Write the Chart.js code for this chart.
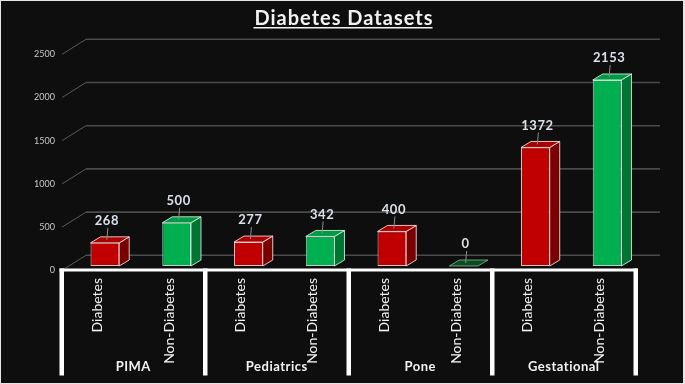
<!DOCTYPE html>
<html>
<head>
<meta charset="utf-8">
<script src="https://cdn.jsdelivr.net/npm/chart.js@4.4.1/dist/chart.umd.min.js"></script>
<style>
  html, body { margin: 0; padding: 0; background: #e6e6e6; }
  #wrap { position: absolute; left: 0; top: 0; width: 685px; height: 384px; }
</style>
</head>
<body>
<div id="wrap"><canvas id="myChart" width="685" height="384"></canvas></div>
<script>
const titleText = "Diabetes Datasets";
const categories = ["Diabetes", "Non-Diabetes", "Diabetes", "Non-Diabetes", "Diabetes", "Non-Diabetes", "Diabetes", "Non-Diabetes"];
const groups = ["PIMA", "Pediatrics", "Pone", "Gestational"];
const values = [268, 500, 277, 342, 400, 0, 1372, 2153];
const yTicks = [0, 500, 1000, 1500, 2000, 2500];

const FONT = "Lato, 'Open Sans', sans-serif";
const DX = 10, DY = 6;          // bar depth
const WALL_DX = 24, WALL_DY = 15; // side wall depth
const FRONT_SHIFT = -7.5;       // front plane offset of category axis

const isRed = (i) => i % 2 === 0;
const frontCol = (i) => isRed(i) ? "#c00000" : "#00b050";
const topCol = (i) => isRed(i) ? "#a80000" : "#009a46";
const sideCol = (i) => isRed(i) ? "#780000" : "#007533";
const edgeCol = (i) => isRed(i) ? "rgba(255,225,225,0.85)" : "rgba(215,245,225,0.85)";

const poly = (ctx, pts, fill, stroke) => {
  ctx.beginPath();
  ctx.moveTo(pts[0][0], pts[0][1]);
  pts.slice(1).forEach((p) => ctx.lineTo(p[0], p[1]));
  ctx.closePath();
  ctx.fillStyle = fill;
  ctx.fill();
  if (stroke) {
    ctx.strokeStyle = stroke;
    ctx.lineWidth = 1;
    ctx.stroke();
  }
};

const backdrop = {
  id: "backdrop",
  beforeDraw(chart) {
    const ctx = chart.ctx;
    const y = chart.scales.y;
    ctx.save();
    ctx.fillStyle = "#0e0e0e";
    ctx.fillRect(1, 1, 682, 382);

    // title, underlined
    ctx.fillStyle = "#f2f2f2";
    ctx.font = "bold 20px " + FONT;
    ctx.letterSpacing = "1px";
    ctx.textAlign = "center";
    ctx.textBaseline = "alphabetic";
    ctx.fillText(titleText, 344, 25);
    const tw = ctx.measureText(titleText).width;
    ctx.fillRect(343 - tw / 2, 27, tw, 1.5);
    ctx.letterSpacing = "0px";

    // back wall gridlines + side wall diagonals + tick labels
    yTicks.forEach((v) => {
      const py = y.getPixelForValue(v);
      const fx = 62, fy = py + 4.3;
      const bx = fx + WALL_DX, by = fy - WALL_DY;
      ctx.strokeStyle = "#4a4a4a";
      ctx.lineWidth = 1.6;
      ctx.beginPath();
      ctx.moveTo(bx, by);
      ctx.lineTo(660, by);
      ctx.stroke();
      ctx.strokeStyle = "#5a5a5a";
      ctx.lineWidth = 1;
      ctx.beginPath();
      ctx.moveTo(fx, fy);
      ctx.lineTo(bx, by);
      ctx.stroke();
      ctx.fillStyle = "#c8c8c8";
      ctx.font = "9px " + FONT;
      ctx.textAlign = "right";
      ctx.textBaseline = "middle";
      ctx.fillText(String(v), 55, fy);
    });
    ctx.restore();
  },
  beforeDatasetsDraw(chart) {
    const ctx = chart.ctx;
    const meta = chart.getDatasetMeta(0);
    ctx.save();
    meta.data.forEach((bar, i) => {
      const l = bar.x - bar.width / 2, r = bar.x + bar.width / 2;
      const t = bar.y, b = bar.base;
      if (values[i] === 0) {
        poly(ctx, [[l, b], [l + DX, b - DY], [r + DX, b - DY], [r, b]], "#0c4a22", "rgba(150,200,165,0.7)");
        return;
      }
      poly(ctx, [[r, t], [r + DX, t - DY], [r + DX, b - DY], [r, b]], sideCol(i), edgeCol(i));
      poly(ctx, [[l, t], [l + DX, t - DY], [r + DX, t - DY], [r, t]], topCol(i), edgeCol(i));
    });
    ctx.restore();
  },
  afterDatasetsDraw(chart) {
    const ctx = chart.ctx;
    const meta = chart.getDatasetMeta(0);
    const x = chart.scales.x;
    ctx.save();

    // value labels with leader lines
    meta.data.forEach((bar, i) => {
      const ly = bar.y - 22;
      const lx = bar.x + 2;
      const topY = bar.y - DY / 2;
      if (topY - (ly + 7) > 3) {
        ctx.strokeStyle = "#8c8c8c";
        ctx.lineWidth = 1;
        ctx.beginPath();
        ctx.moveTo(lx + 1, ly + 7);
        ctx.lineTo(lx, topY);
        ctx.stroke();
      }
      ctx.fillStyle = "#d9e0ea";
      ctx.font = "bold 13px " + FONT;
      ctx.letterSpacing = "0.5px";
      ctx.textAlign = "center";
      ctx.textBaseline = "middle";
      ctx.fillText(String(values[i]), lx, ly);
    });
    ctx.letterSpacing = "0px";

    // category axis bracket
    const step = x.getPixelForValue(1) - x.getPixelForValue(0);
    const bounds = [];
    for (let g = 0; g <= groups.length; g++) {
      bounds.push(x.getPixelForValue(g * 2) - step / 2 + FRONT_SHIFT);
    }
    ctx.fillStyle = "#ffffff";
    ctx.fillRect(bounds[0] - 2, 268.5, bounds[bounds.length - 1] - bounds[0] + 4, 3);
    bounds.forEach((bx) => ctx.fillRect(bx - 2, 268.5, 4.5, 107));

    // rotated category labels
    ctx.fillStyle = "#f2f2f2";
    ctx.font = "14px " + FONT;
    categories.forEach((c, i) => {
      const px = x.getPixelForValue(i) + FRONT_SHIFT;
      ctx.save();
      ctx.translate(px, 278);
      ctx.rotate(-Math.PI / 2);
      ctx.textAlign = "right";
      ctx.textBaseline = "middle";
      ctx.fillText(c, 0, 0);
      ctx.restore();
    });

    // group labels
    ctx.font = "bold 13px " + FONT;
    ctx.letterSpacing = "0.5px";
    ctx.textAlign = "center";
    ctx.textBaseline = "middle";
    groups.forEach((g, k) => {
      ctx.fillText(g, (bounds[k] + bounds[k + 1]) / 2, 367);
    });
    ctx.restore();
  }
};

const config = {
  type: "bar",
  data: {
    labels: categories.map((c, i) => groups[Math.floor(i / 2)] + " " + c),
    datasets: [
      {
        label: "Count",
        data: values,
        backgroundColor: values.map((v, i) => v === 0 ? "rgba(0,0,0,0)" : frontCol(i)),
        borderColor: values.map((v, i) => v === 0 ? "rgba(0,0,0,0)" : edgeCol(i)),
        borderWidth: 1,
        borderSkipped: false,
        barPercentage: 0.4,
        categoryPercentage: 1,
      },
    ],
  },
  options: {
    responsive: false,
    animation: false,
    layout: { padding: { top: 50, bottom: 118, left: 69, right: 42 } },
    plugins: { legend: { display: false }, tooltip: { enabled: false }, title: { display: false } },
    scales: {
      x: { display: false },
      y: { display: false, min: 0, max: 2500 },
    },
  },
  plugins: [backdrop],
};

window.onload = () => {
  new Chart(document.getElementById("myChart"), config);
};
</script>
</body>
</html>
